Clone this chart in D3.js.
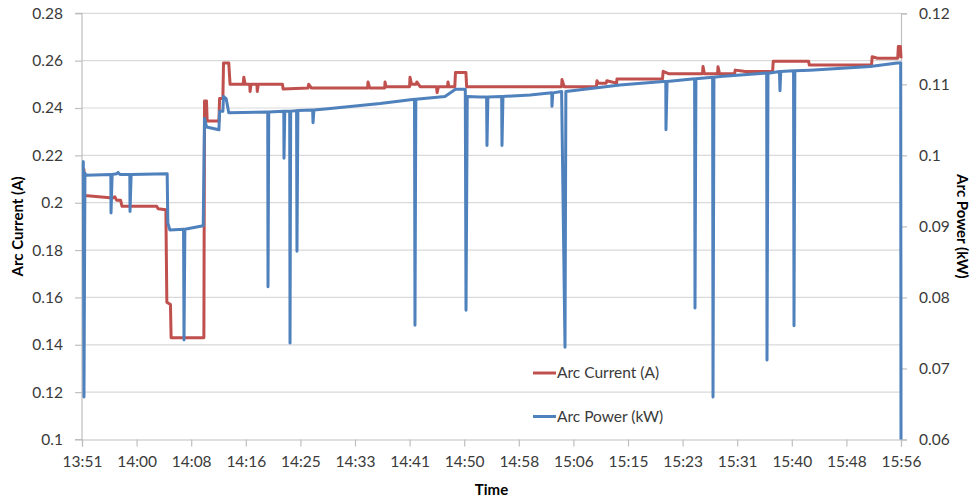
<!DOCTYPE html>
<html><head><meta charset="utf-8">
<script src="https://cdn.jsdelivr.net/npm/d3@7"></script>
<style>
body{margin:0;background:#fff;}
text{font-family:Lato, "Liberation Sans", sans-serif;}
</style></head>
<body><svg id="chart" width="972" height="498"></svg>
<script>
// ---- data (time in minutes after 13:51) ----
const startClock = "13:51";
const xTickLabels = ["13:51","14:00","14:08","14:16","14:25","14:33","14:41","14:50","14:58","15:06","15:15","15:23","15:31","15:40","15:48","15:56"];
const leftTicks = [0.1,0.12,0.14,0.16,0.18,0.2,0.22,0.24,0.26,0.28];
const rightTicks = [0.06,0.07,0.08,0.09,0.1,0.11,0.12];

const currentMin = [0,0.3,0.4,4.7,5.0,5.3,5.9,6.1,11.4,11.6,12.8,12.95,13.5,13.6,18.6,18.7,19.0,19.1,20.9,21.0,21.5,21.6,22.4,22.6,24.6,24.7,24.9,25.6,25.65,25.8,26.7,26.75,26.9,30.6,30.7,34.5,34.6,35.0,43.6,43.65,43.9,46.2,46.25,46.4,50.0,50.06,50.3,51.0,51.1,51.6,54.1,54.2,54.4,55.8,55.86,56.0,56.9,57.0,58.6,58.7,73.2,73.26,73.6,78.5,78.6,78.8,80.0,80.1,81.6,81.65,88.6,88.7,89.5,94.7,94.78,95.0,97.0,97.07,97.3,99.6,99.7,100.7,101.2,105.4,105.5,106.1,110.9,111.0,120.5,120.6,121.4,124.5,124.6,124.9,125];
const currentA  = [0.214,0.214,0.203,0.202,0.2025,0.201,0.201,0.1985,0.1985,0.1975,0.197,0.158,0.157,0.143,0.143,0.243,0.243,0.2345,0.2345,0.244,0.244,0.259,0.259,0.250,0.250,0.253,0.250,0.250,0.247,0.250,0.250,0.247,0.250,0.250,0.248,0.2485,0.250,0.2485,0.2485,0.251,0.2485,0.2485,0.251,0.249,0.249,0.253,0.250,0.250,0.251,0.249,0.249,0.2465,0.249,0.249,0.251,0.249,0.249,0.255,0.255,0.249,0.249,0.252,0.249,0.249,0.2515,0.2505,0.2505,0.2515,0.2505,0.2523,0.2523,0.2555,0.2545,0.2545,0.2575,0.2545,0.2545,0.2574,0.2545,0.2545,0.256,0.2556,0.2554,0.2554,0.2597,0.2597,0.2597,0.2582,0.2582,0.2617,0.261,0.261,0.266,0.266,0.261];

const powerMin = [0,0.2,0.3,0.45,0.6,4.4,4.43,4.6,5.3,5.5,5.8,7.3,7.33,7.5,13.0,13.1,13.4,15.5,15.57,15.7,18.5,18.7,19.0,20.9,21.0,21.5,21.6,22.0,22.4,28.35,28.39,28.5,30.8,30.83,30.95,31.7,31.75,31.85,32.75,32.81,32.95,35.2,35.26,35.4,37.9,45.5,50.75,50.82,50.95,55.4,57.0,58.5,58.61,58.8,60.7,61.75,61.81,61.95,64.05,64.1,64.25,68.4,71.7,71.73,71.85,73.2,73.72,73.85,82.1,88.7,89.1,89.13,89.3,93.5,93.56,93.7,96.25,96.31,96.45,97.4,104.5,104.55,104.7,105.0,106.45,106.53,106.65,108.6,108.67,108.8,111.1,120.3,124.4,124.95,125];
const powerKW  = [0.0991,0.0991,0.066,0.0975,0.0972,0.0973,0.0919,0.0973,0.0974,0.0976,0.0973,0.0973,0.0921,0.0973,0.0974,0.0905,0.0895,0.0896,0.074,0.0896,0.0901,0.1052,0.104,0.1036,0.1062,0.1062,0.1083,0.108,0.1060,0.1061,0.0815,0.1061,0.1062,0.0996,0.1062,0.1062,0.0736,0.1062,0.1063,0.0865,0.1063,0.1064,0.1046,0.1064,0.1066,0.1073,0.1079,0.0761,0.1079,0.1083,0.1093,0.1093,0.0782,0.1083,0.1082,0.1082,0.1014,0.1082,0.1083,0.1014,0.1083,0.1085,0.1088,0.1069,0.1088,0.109,0.073,0.109,0.1099,0.1104,0.1104,0.1036,0.1104,0.1108,0.0785,0.1108,0.111,0.066,0.111,0.1111,0.1116,0.0712,0.1116,0.1116,0.1118,0.1091,0.1118,0.1119,0.076,0.1119,0.112,0.1125,0.113,0.113,0.06];

// ---- drawing ----
const svg = d3.select("#chart");
const M = {left:82, right:901, top:13.3, bottom:439.5};
const [sh, sm] = startClock.split(":").map(Number);
const t0 = new Date(2000,0,1,sh,sm,0);
const toDate = m => new Date(t0.getTime() + m*60000);

const x = d3.scaleTime().domain([t0, toDate(125)]).range([M.left, M.right]);
const yL = d3.scaleLinear().domain([0.1,0.28]).range([M.bottom, M.top]);
const yR = d3.scaleLinear().domain([0.06,0.12]).range([M.bottom, M.top]);

const tickDates = xTickLabels.map((_,i)=>toDate(i*125/(xTickLabels.length-1)));

// gridlines
svg.append("g").selectAll("line").data(leftTicks.slice(1)).join("line")
  .attr("x1",M.left).attr("x2",M.right)
  .attr("y1",d=>yL(d)).attr("y2",d=>yL(d))
  .attr("stroke","#d9d9d9").attr("stroke-width",1.2);

const lblColor = "#3a3a3a";
// left axis
const gL = svg.append("g").attr("transform",`translate(${M.left},0)`)
  .call(d3.axisLeft(yL).tickValues(leftTicks).tickFormat(d=>String(+d.toFixed(2))).tickSize(7).tickPadding(12));
// right axis
const gR = svg.append("g").attr("transform",`translate(${M.right},0)`)
  .call(d3.axisRight(yR).tickValues(rightTicks).tickFormat(d=>String(+d.toFixed(2))).tickSize(6).tickPadding(12));
// bottom axis
const gB = svg.append("g").attr("transform",`translate(0,${M.bottom})`)
  .call(d3.axisBottom(x).tickValues(tickDates).tickFormat((d,i)=>xTickLabels[i]).tickSize(7).tickPadding(9));

[gL,gR,gB].forEach(g=>{
  g.select(".domain").attr("stroke","#bfbfbf").attr("stroke-width",1.2);
  g.selectAll(".tick line").attr("stroke","#bfbfbf").attr("stroke-width",1.2);
  g.selectAll(".tick text").attr("fill",lblColor).style("font-size","15.5px").style("font-family","Lato, sans-serif");
});
gL.select(".domain").attr("d",`M-7,${M.bottom}H0V${M.top}H-7`);

// lines
const lineC = d3.line().x((d,i)=>x(toDate(currentMin[i]))).y(d=>yL(d));
const lineP = d3.line().x((d,i)=>x(toDate(powerMin[i]))).y(d=>yR(d));
svg.append("path").datum(currentA).attr("d",lineC)
  .attr("fill","none").attr("stroke","#C0504D").attr("stroke-width",3).attr("stroke-linejoin","round");
svg.append("path").datum(powerKW).attr("d",lineP)
  .attr("fill","none").attr("stroke","#4F81BD").attr("stroke-width",3).attr("stroke-linejoin","round");

// axis titles
svg.append("text").attr("transform",`translate(23,${(M.top+M.bottom)/2}) rotate(-90)`)
  .attr("text-anchor","middle").attr("font-weight","bold").attr("font-size",15).attr("fill","#000")
  .text("Arc Current (A)");
svg.append("text").attr("transform",`translate(957,${(M.top+M.bottom)/2}) rotate(90)`)
  .attr("text-anchor","middle").attr("font-weight","bold").attr("font-size",15).attr("fill","#000")
  .text("Arc Power (kW)");
svg.append("text").attr("x",(M.left+M.right)/2).attr("y",495)
  .attr("text-anchor","middle").attr("font-weight","bold").attr("font-size",15).attr("fill","#000")
  .text("Time");

// legend
const legend = [{name:"Arc Current (A)",color:"#C0504D",y:373},{name:"Arc Power (kW)",color:"#4F81BD",y:416.5}];
const lg = svg.append("g").selectAll("g").data(legend).join("g");
lg.append("line").attr("x1",533).attr("x2",556).attr("y1",d=>d.y).attr("y2",d=>d.y)
  .attr("stroke",d=>d.color).attr("stroke-width",3);
lg.append("text").attr("x",557).attr("y",d=>d.y+5).attr("font-size",15.5).attr("fill",lblColor).text(d=>d.name);
</script></body></html>
